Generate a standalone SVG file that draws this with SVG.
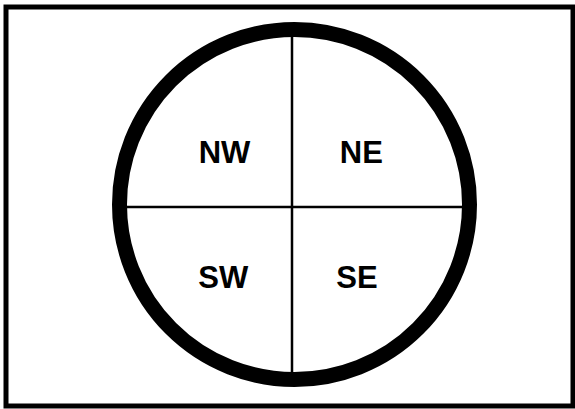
<svg xmlns="http://www.w3.org/2000/svg" width="575" height="409" viewBox="0 0 575 409">
<style>
.lbl{font-family:"Liberation Sans",Arial,sans-serif;font-weight:bold;font-size:31px;fill:#000;text-anchor:middle}
.ln{stroke:#000;stroke-width:2.5;fill:none}
</style>
<rect x="0" y="0" width="575" height="409" fill="#fff"/>
<rect x="6" y="7" width="567" height="399" fill="none" stroke="#000" stroke-width="5"/>
<g id="connectors">
<line class="ln" x1="292" y1="36" x2="292" y2="378"/>
<line class="ln" x1="124" y1="207" x2="465" y2="207"/>
</g>
<g id="ring"><circle cx="294.5" cy="204.5" r="175" fill="none" stroke="#000" stroke-width="15"/></g>
<g id="nw"><text class="lbl" x="224.5" y="163.3">NW</text></g>
<g id="ne"><text class="lbl" x="361.3" y="163.3">NE</text></g>
<g id="sw"><text class="lbl" x="223.3" y="288">SW</text></g>
<g id="se"><text class="lbl" x="357" y="288">SE</text></g>
</svg>
